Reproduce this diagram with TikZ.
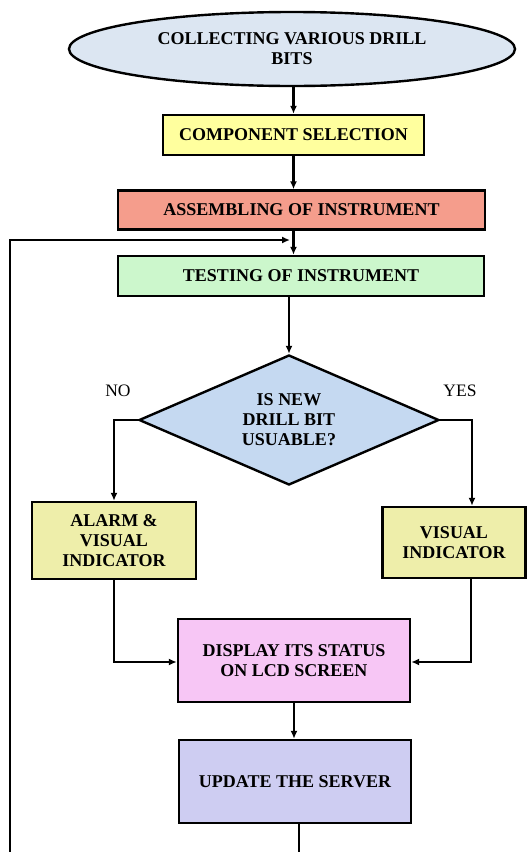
\documentclass[tikz,border=0pt]{standalone}
\usepackage{fontspec}
\setmainfont{Liberation Serif}
\usetikzlibrary{shapes.geometric,arrows.meta}
\definecolor{cEll}{HTML}{DCE6F2}
\definecolor{cComp}{HTML}{FFFF9E}
\definecolor{cAsm}{HTML}{F59D8C}
\definecolor{cTest}{HTML}{CCF7CC}
\definecolor{cDia}{HTML}{C5D9F1}
\definecolor{cInd}{HTML}{EEEEAA}
\definecolor{cDisp}{HTML}{F7C6F5}
\definecolor{cServ}{HTML}{CECDF2}
\tikzset{
  txt/.style={font=\fontsize{18}{20}\selectfont\bfseries},
  boxstyle/.style={draw=black, line width=2.4pt, rectangle, inner sep=0pt, align=center, txt},
  conn/.style={line width=2.4pt, -{Latex[length=8pt,width=7pt]}},
  plainconn/.style={line width=2.4pt},
  lbl/.style={font=\fontsize{17.5}{20}\selectfont}
}
\begin{document}
\begin{tikzpicture}[x=1pt,y=-1pt]
\useasboundingbox (0,0) rectangle (531,852);
\node[ellipse, draw=black, line width=2.4pt, fill=cEll, minimum width=446pt, minimum height=74pt, inner sep=0pt, align=center, txt] (ell) at (292,49) {COLLECTING VARIOUS DRILL\\BITS};
\node[boxstyle, fill=cComp, minimum width=261pt, minimum height=40pt] (comp) at (293.5,135) {COMPONENT SELECTION};
\node[boxstyle, fill=cAsm, minimum width=367pt, minimum height=39pt] (asm) at (301.5,210) {ASSEMBLING OF INSTRUMENT};
\node[boxstyle, fill=cTest, minimum width=366pt, minimum height=40pt] (test) at (301,276) {TESTING OF INSTRUMENT};
\node[diamond, draw=black, line width=2.4pt, fill=cDia, minimum width=300pt, minimum height=130pt, inner sep=0pt, aspect=2.3, align=center, txt] (dia) at (289,420) {IS NEW\\DRILL BIT\\USUABLE?};
\node[boxstyle, fill=cInd, minimum width=164pt, minimum height=77pt] (alarm) at (114,540.5) {ALARM \&\\VISUAL\\INDICATOR};
\node[boxstyle, fill=cInd, minimum width=143pt, minimum height=71pt] (vis) at (454,542.5) {VISUAL\\INDICATOR};
\node[boxstyle, fill=cDisp, minimum width=232pt, minimum height=83pt] (disp) at (294,660.5) {DISPLAY ITS STATUS\\ON LCD SCREEN};
\node[boxstyle, fill=cServ, minimum width=232pt, minimum height=83pt] (serv) at (295,781.5) {UPDATE THE SERVER};
\node[lbl] (no) at (118,391) {NO};
\node[lbl] (yes) at (460,391) {YES};
\coordinate (fbtop) at (10,240);
\coordinate (fbbot) at (10,852);
\coordinate (fbend) at (290,240);
\coordinate (servend) at (299,852);
\draw[conn] (ell.south -| comp.north) -- (comp.north);
\draw[conn] (comp.south) -- (comp.south |- asm.north);
\draw[conn] (asm.south -| comp.south) -- (comp.south |- test.north);
\draw[conn] (test.south -| dia.north) -- (dia.north);
\draw[conn] (dia.west) -| (alarm.north);
\draw[conn] (dia.east) -| (vis.north east -| 472,0);
\draw[conn] (alarm.south) |- (disp.west |- 0,662);
\draw[conn] (vis.south west -| 471,0) |- (disp.east |- 0,662);
\draw[conn] (disp.south) -- (disp.south |- serv.north);
\draw[plainconn] (serv.south -| servend) -- (servend);
\draw[conn] (fbbot) -- (fbtop) -- (fbend);
\end{tikzpicture}
\end{document}
